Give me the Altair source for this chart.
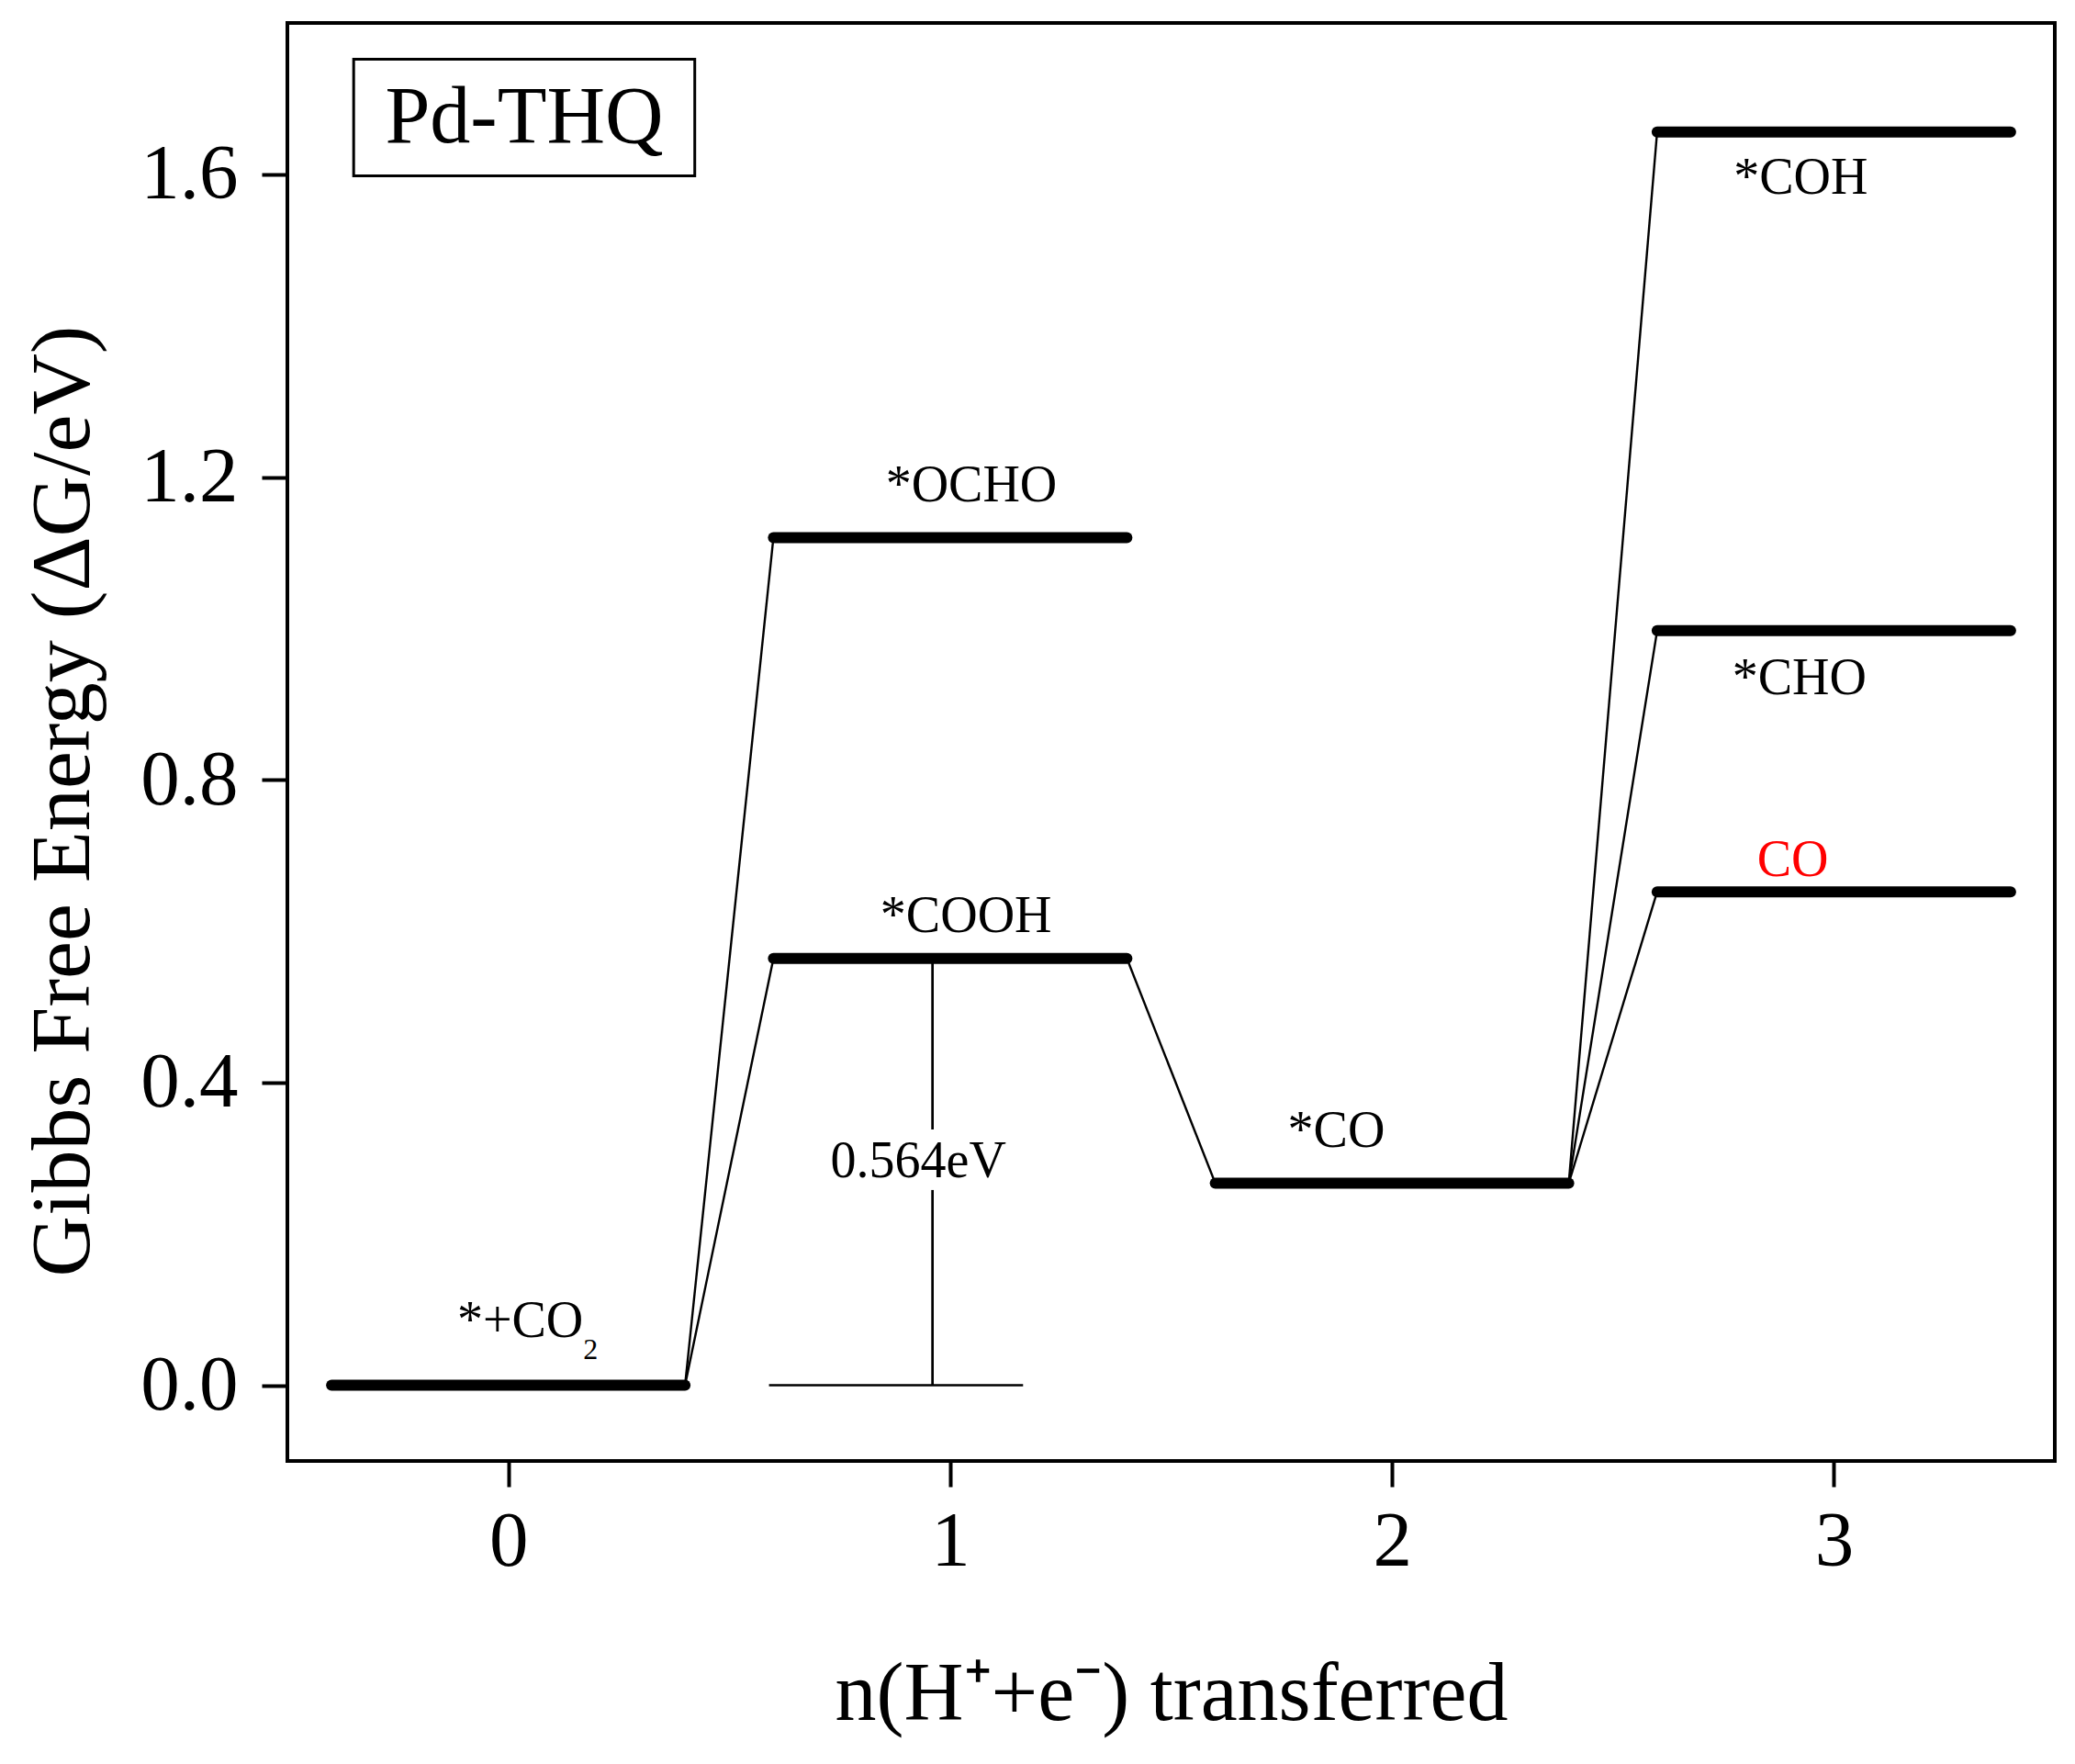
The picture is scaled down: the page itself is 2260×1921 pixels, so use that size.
import altair as alt
import pandas as pd

# ---- data ----
level_names = ["*+CO2", "*COOH", "*OCHO", "*CO", "*COH", "*CHO", "CO"]
level_start = [-0.40, 0.60, 0.60, 1.60, 2.60, 2.60, 2.60]
level_end = [0.40, 1.40, 1.40, 2.40, 3.40, 3.40, 3.40]
level_energy = [0.0, 0.564, 1.12, 0.267, 1.656, 0.997, 0.652]

conn_from = ["*+CO2", "*+CO2", "*COOH", "*CO", "*CO", "*CO"]
conn_to = ["*COOH", "*OCHO", "*CO", "*COH", "*CHO", "CO"]

label_text = ["*+CO", "*COOH", "*OCHO", "*CO", "*COH", "*CHO", "CO", "0.564eV"]
label_x = [0.027, 1.036, 1.048, 1.874, 2.925, 2.922, 2.907, 0.928]
label_y = [0.084, 0.620, 1.189, 0.336, 1.595, 0.934, 0.694, 0.296]
label_color = ["black", "black", "black", "black", "black", "black", "red", "black"]

sub_text = ["2"]
sub_x = [0.186]
sub_y = [0.047]

barrier_value = 0.564
barrier_x = 0.96
barrier_base_x = [0.59, 1.165]
barrier_gap = [0.258, 0.338]

box_x = [-0.35, 0.422]
box_y = [1.598, 1.752]
box_label = "Pd-THQ"
box_label_pos = [0.036, 1.674]

x_ticks = [0, 1, 2, 3]
y_ticks = [0.0, 0.4, 0.8, 1.2, 1.6]
x_domain = [-0.5, 3.5]
y_domain = [-0.1, 1.8]

FONT = "Liberation Serif"
W, H = 1925, 1566

# ---- tables ----
levels_df = pd.DataFrame({"name": level_names, "x0": level_start,
                          "x1": level_end, "g": level_energy})
lv = levels_df.set_index("name")
conn_df = pd.DataFrame({
    "xa": [lv.loc[a, "x1"] for a in conn_from],
    "ya": [lv.loc[a, "g"] for a in conn_from],
    "xb": [lv.loc[b, "x0"] for b in conn_to],
    "yb": [lv.loc[b, "g"] for b in conn_to],
})
labels_df = pd.DataFrame({"t": label_text, "x": label_x, "y": label_y, "c": label_color})
sub_df = pd.DataFrame({"t": sub_text, "x": sub_x, "y": sub_y})
base_df = pd.DataFrame({"xa": [barrier_base_x[0]], "xb": [barrier_base_x[1]], "y": [0.0]})
vert_df = pd.DataFrame({"x": [barrier_x, barrier_x],
                        "ya": [barrier_value, barrier_gap[0]],
                        "yb": [barrier_gap[1], 0.0]})
box_df = pd.DataFrame({"x0": [box_x[0]], "x1": [box_x[1]], "y0": [box_y[0]], "y1": [box_y[1]]})
boxlab_df = pd.DataFrame({"t": [box_label], "x": [box_label_pos[0]], "y": [box_label_pos[1]]})

xscale = alt.Scale(domain=x_domain, nice=False, zero=False)
yscale = alt.Scale(domain=y_domain, nice=False, zero=False)

xaxis = alt.Axis(values=x_ticks, format="d", title="n(H\u207a+e\u207b) transferred",
                 labelFont=FONT, labelFontSize=85, labelColor="black", labelPadding=18,
                 tickSize=28, tickWidth=4, tickColor="black", domain=False, grid=False,
                 titleFont=FONT, titleFontSize=90, titleFontWeight="normal", titleColor="black",
                 titleX=W / 2, titleY=254, titleBaseline="middle")
yaxis = alt.Axis(values=y_ticks, format=".1f", title="Gibbs Free Energy (\u0394G/eV)",
                 labelFont=FONT, labelFontSize=85, labelColor="black", labelPadding=26,
                 tickSize=28, tickWidth=4, tickColor="black", domain=False, grid=False,
                 titleFont=FONT, titleFontSize=92, titleFontWeight="normal", titleColor="black",
                 titleX=-245, titleY=847, titleBaseline="middle")

levels = alt.Chart(levels_df).mark_rule(strokeWidth=12, strokeCap="round", color="black").encode(
    x=alt.X("x0:Q", scale=xscale, axis=xaxis),
    x2="x1:Q",
    y=alt.Y("g:Q", scale=yscale, axis=yaxis),
)
connectors = alt.Chart(conn_df).mark_rule(strokeWidth=2.4, color="black").encode(
    x=alt.X("xa:Q", scale=xscale), x2="xb:Q",
    y=alt.Y("ya:Q", scale=yscale), y2="yb:Q",
)
base = alt.Chart(base_df).mark_rule(strokeWidth=2.5, color="black").encode(
    x=alt.X("xa:Q", scale=xscale), x2="xb:Q", y=alt.Y("y:Q", scale=yscale),
)
vert = alt.Chart(vert_df).mark_rule(strokeWidth=2.7, color="black").encode(
    x=alt.X("x:Q", scale=xscale), y=alt.Y("ya:Q", scale=yscale), y2="yb:Q",
)
labels = alt.Chart(labels_df).mark_text(font=FONT, fontSize=56, align="center",
                                        baseline="middle").encode(
    x=alt.X("x:Q", scale=xscale), y=alt.Y("y:Q", scale=yscale), text="t:N",
    color=alt.Color("c:N", scale=None),
)
subs = alt.Chart(sub_df).mark_text(font=FONT, fontSize=32, align="center",
                                   baseline="middle", color="black").encode(
    x=alt.X("x:Q", scale=xscale), y=alt.Y("y:Q", scale=yscale), text="t:N",
)
box = alt.Chart(box_df).mark_rect(fill="white", stroke="black", strokeWidth=3).encode(
    x=alt.X("x0:Q", scale=xscale), x2="x1:Q", y=alt.Y("y0:Q", scale=yscale), y2="y1:Q",
)
boxlab = alt.Chart(boxlab_df).mark_text(font=FONT, fontSize=88, align="center",
                                        baseline="middle", color="black").encode(
    x=alt.X("x:Q", scale=xscale), y=alt.Y("y:Q", scale=yscale), text="t:N",
)

chart = alt.layer(levels, connectors, base, vert, labels, subs, box, boxlab).properties(
    width=W, height=H,
    padding={"left": 305, "top": 17, "right": 14, "bottom": 320},
    autosize=alt.AutoSizeParams(type="none"),
    background="white",
).configure_view(stroke="black", strokeWidth=4)

chart.save("out.html", embed_options={"renderer": "svg", "actions": False})
